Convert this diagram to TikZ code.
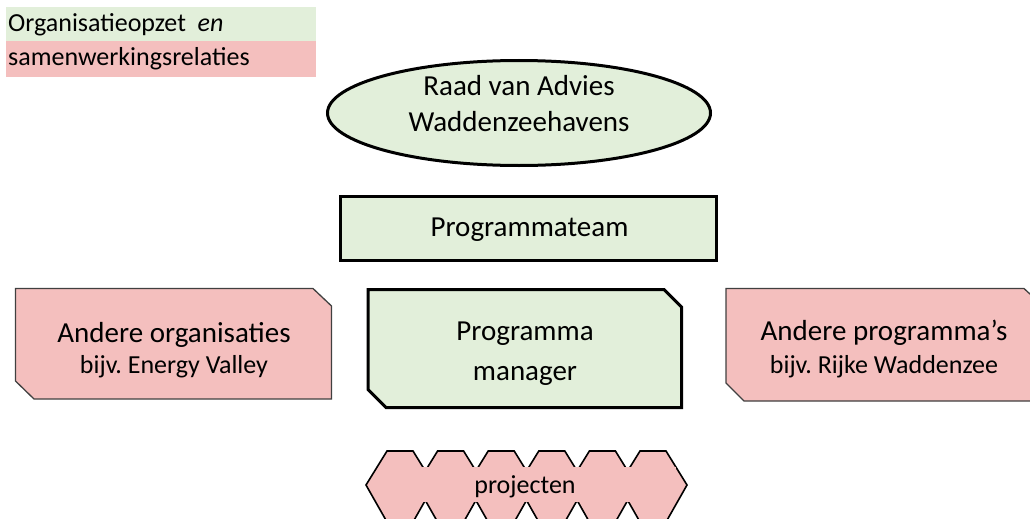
\documentclass[tikz,border=0pt]{standalone}
\usepackage{fontspec}
\setmainfont{Carlito}
\usetikzlibrary{shapes.geometric}
\definecolor{lgreen}{RGB}{226,239,218}
\definecolor{lpink}{RGB}{244,191,190}
\definecolor{edgegray}{RGB}{64,64,64}
\frenchspacing
\begin{document}
\begin{tikzpicture}[x=1pt,y=-1pt,
  bigtxt/.style={font=\fontsize{29}{35}\selectfont, inner sep=0pt, anchor=base},
  smalltxt/.style={font=\fontsize{26}{31}\selectfont, inner sep=0pt, anchor=base},
  greenbox/.style={draw=black, fill=lgreen, line width=3pt, line join=miter},
  pinkbox/.style={draw=edgegray, fill=lpink, line width=1.3pt, line join=miter},
  hexa/.style={draw=black, fill=lpink, line width=1.6pt, line join=miter}]
\useasboundingbox (0,0) rectangle (1030,519);
\clip (0,0) rectangle (1030,519);

% legend
\fill[lgreen] (6,7) rectangle (316,41);
\fill[lpink] (6,41) rectangle (316,77);
\node[smalltxt, anchor=base west] (leg1) at (8,32) {Organisatieopzet\ \ \textit{en}};
\node[smalltxt, anchor=base west] (leg2) at (8,66) {samenwerkingsrelaties};

% Raad van Advies
\node[greenbox, ellipse, minimum width=383, minimum height=105, inner sep=0pt] (raad) at (519,113) {};
\node[bigtxt] (raad1) at (519,95) {Raad van Advies};
\node[bigtxt] (raad2) at (519,131) {Waddenzeehavens};

% Programmateam
\draw[greenbox] (340.5,196.5) rectangle (716.5,260.5);
\node[bigtxt] (team) at (529.5,236) {Programmateam};

% Programma manager
\draw[greenbox] (368,289.5) -- (664,289.5) -- (681.5,307) -- (681.5,407.5) -- (386,407.5) -- (368,389.5) -- cycle;
\node[bigtxt] (pm1) at (525,340) {Programma};
\node[bigtxt] (pm2) at (525,380) {manager};

% Andere organisaties
\draw[pinkbox] (15.5,288.5) -- (313,288.5) -- (331.5,306) -- (331.5,399) -- (34,399) -- (15.5,381) -- cycle;
\node[bigtxt] (org1) at (174,342) {Andere organisaties};
\node[smalltxt] (org2) at (174,373) {bijv. Energy Valley};

% Andere programma's
\draw[pinkbox] (726,288.5) -- (1024,288.5) -- (1043,306) -- (1043,401) -- (744,401) -- (726,383) -- cycle;
\node[bigtxt] (prog1) at (884,340) {Andere programma’s};
\node[smalltxt] (prog2) at (884,373) {bijv. Rijke Waddenzee};

% projecten
\foreach \k in {0,...,5} {
  \pgfmathsetmacro{\xo}{366+50.6*\k}
  \draw[hexa] (\xo,485) -- (\xo+21,451) -- (\xo+47,451) -- (\xo+68,485) -- (\xo+47,522) -- (\xo+21,522) -- cycle;
}
\fill[lpink] (378,467) rectangle (676,502);
\node[smalltxt] (proj) at (525,493) {projecten};
\end{tikzpicture}
\end{document}
